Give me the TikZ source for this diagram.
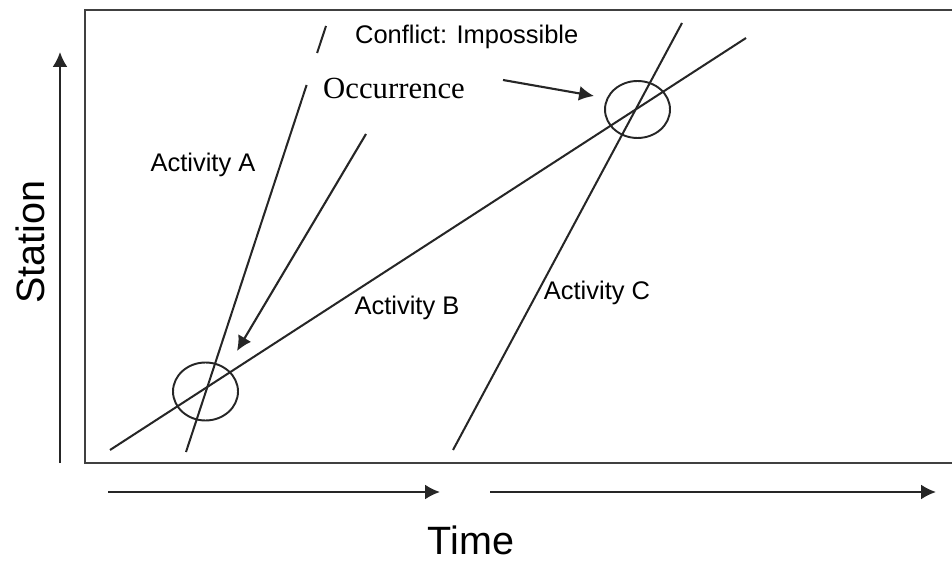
\documentclass[tikz,border=0pt]{standalone}
\usepackage{fontspec}
\setmainfont{Liberation Serif}
\setsansfont{Liberation Sans}
\usepackage{tikz}
\usetikzlibrary{arrows.meta,shapes.geometric}

\tikzset{
    actividad/.style={line width=1.15pt, black!85},
    flecha/.style={line width=1.2pt, black!85, -{Latex[length=8.5pt,width=8.5pt]}},
    conflicto/.style={draw, ellipse, line width=1.1pt, black!85, minimum width=1.3cm, minimum height=1.16cm, inner sep=0pt},
    etiqueta/.style={font=\sffamily\fontsize{14.5}{17}\selectfont, inner sep=1pt},
    eje/.style={font=\sffamily\fontsize{22.5}{26}\selectfont, inner sep=1pt}
}

\begin{document}
\begin{tikzpicture}[x=0.02cm, y=-0.02cm]
    \useasboundingbox (0,0) rectangle (952,563);

    % Marco del diagrama
    \draw[line width=1.3pt, black!75] (952,10) -- (85,10) -- (85,463) -- (952,463);

    % Ejes (estacion y tiempo)
    \coordinate (st0) at (60,463);
    \coordinate (st1) at (60,52);
    \coordinate (t0) at (108,492);
    \coordinate (t1) at (440,492);
    \coordinate (t2) at (490,492);
    \coordinate (t3) at (936,492);
    \draw[flecha] (st0) -- (st1);
    \draw[flecha] (t0) -- (t1);
    \draw[flecha] (t2) -- (t3);
    \node[eje, rotate=90] (station) at (30,242) {Station};
    \node[eje] (time) at (471,540) {Time};

    % Actividades (la A queda cortada por el texto)
    \coordinate (a0) at (186,452);
    \coordinate (a1) at (306.6,85);
    \coordinate (a2) at (317.1,53);
    \coordinate (a3) at (326,26);
    \coordinate (b0) at (110,450);
    \coordinate (b1) at (746,38);
    \coordinate (c0) at (453,450);
    \coordinate (c1) at (682,23);
    \draw[actividad] (a0) -- (a1);
    \draw[actividad] (a2) -- (a3);
    \draw[actividad] (b0) -- (b1);
    \draw[actividad] (c0) -- (c1);

    % Conflictos
    \node[conflicto] (cf1) at (205.5,391.5) {};
    \node[conflicto, minimum height=1.14cm] (cf2) at (637.5,109.5) {};

    % Textos
    \node[etiqueta] (actA) at (203,165) {Activity A};
    \node[etiqueta] (actB) at (407,308) {Activity B};
    \node[etiqueta] (actC) at (597,293) {Activity C};
    \node[etiqueta, anchor=west] (imp) at (353,37) {Conflict: Impossible};
    \node[font=\rmfamily\fontsize{17.5}{20}\selectfont, inner sep=1pt] (occ) at (394,88) {Occurrence};

    % Flechas hacia los conflictos
    \coordinate (o0) at (366,134);
    \coordinate (o1) at (237,351);
    \coordinate (o2) at (503,80);
    \coordinate (o3) at (594,96);
    \draw[flecha] (o0) -- (o1);
    \draw[flecha] (o2) -- (o3);
\end{tikzpicture}
\end{document}
